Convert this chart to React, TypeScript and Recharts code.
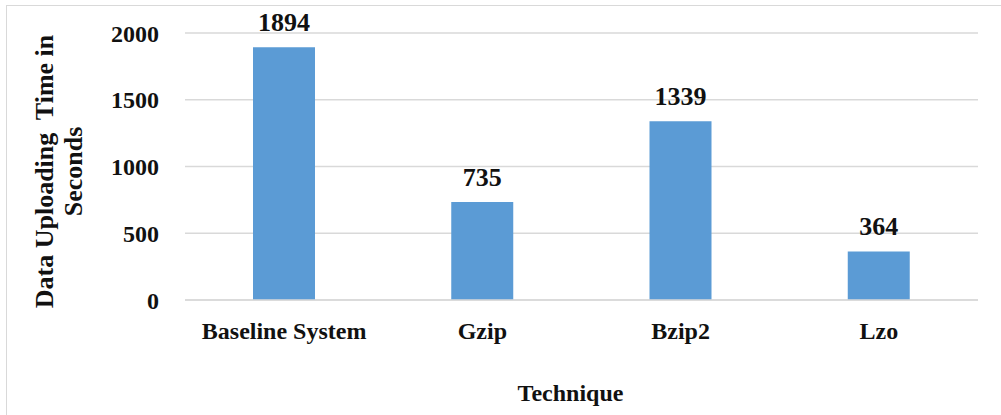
import { BarChart, Bar, XAxis, YAxis, CartesianGrid, LabelList } from 'recharts';

// values
const techniques = ['Baseline System', 'Gzip', 'Bzip2', 'Lzo'];
const uploadSeconds = [1894, 735, 1339, 364];
const yTicks = [0, 500, 1000, 1500, 2000];

const data = techniques.map((name, i) => ({ name, seconds: uploadSeconds[i] }));

const FONT = '"Liberation Serif", "Times New Roman", serif';
const GRID = '#d9d9d9';
const BAR = '#5b9bd5';

const YTitle = ({ viewBox }: any) => {
    const cx = viewBox.x + 53;
    const cy = viewBox.y + viewBox.height / 2 + 5;
    return (
        <text
            transform={`translate(${cx},${cy}) rotate(-90)`}
            textAnchor="middle"
            fontFamily={FONT}
            fontWeight="bold"
            fontSize={26}
            fill="#111"
            style={{ whiteSpace: 'pre' }}
        >
            <tspan x={0} y={0}>Data Uploading  Time in</tspan>
            <tspan x={0} y={29}>Seconds</tspan>
        </text>
    );
};

const XTitle = ({ viewBox }: any) => (
    <text
        x={viewBox.x + viewBox.width / 2 - 11}
        y={viewBox.y + 101}
        textAnchor="middle"
        fontFamily={FONT}
        fontWeight="bold"
        fontSize={24}
        fill="#111"
    >
        Technique
    </text>
);

export default function App() {
    return (
        <div style={{ position: 'absolute', left: 0, top: 0, width: 1001, height: 415, background: '#fff' }}>
            <div
                style={{
                    position: 'absolute',
                    left: 6,
                    top: 5,
                    right: 0,
                    bottom: 0,
                    borderTop: `1px solid ${GRID}`,
                    borderLeft: `1px solid ${GRID}`,
                }}
            />
            <BarChart
                width={1001}
                height={415}
                data={data}
                margin={{ top: 33, right: 23, bottom: 0, left: 0 }}
                style={{ position: 'absolute', left: 0, top: 0 }}
            >
                <CartesianGrid vertical={false} stroke={GRID} strokeWidth={1.5} />
                <XAxis
                    dataKey="name"
                    height={115}
                    axisLine={{ stroke: GRID, strokeWidth: 1.5 }}
                    tickLine={false}
                    tickMargin={16}
                    tick={{ fontFamily: FONT, fontWeight: 'bold', fontSize: 24, fill: '#111' }}
                    label={<XTitle />}
                />
                <YAxis
                    width={185}
                    domain={[0, 2000]}
                    ticks={yTicks}
                    axisLine={false}
                    tickLine={false}
                    tickMargin={20}
                    tick={{ fontFamily: FONT, fontWeight: 'bold', fontSize: 24, fill: '#111' }}
                    label={<YTitle />}
                />
                <Bar dataKey="seconds" fill={BAR} barSize={62} isAnimationActive={false}>
                    <LabelList
                        dataKey="seconds"
                        position="top"
                        offset={16}
                        fontFamily={FONT}
                        fontWeight="bold"
                        fontSize={26}
                        fill="#111"
                    />
                </Bar>
            </BarChart>
        </div>
    );
}
